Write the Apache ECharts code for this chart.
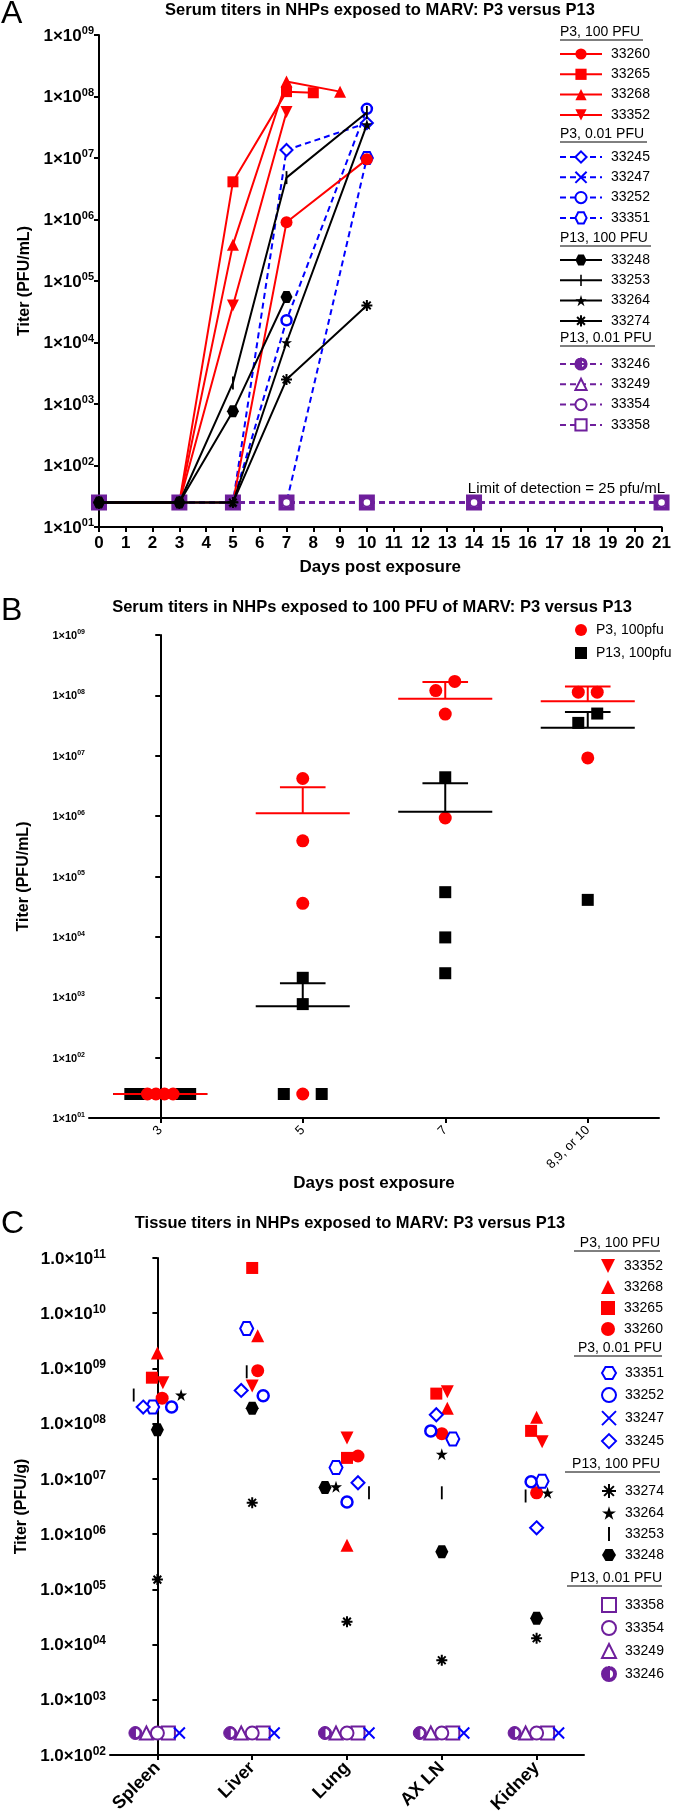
<!DOCTYPE html>
<html>
<head>
<meta charset="utf-8">
<script src="https://cdn.jsdelivr.net/npm/echarts@6.0.0/dist/echarts.min.js"></script>
<style>
  html, body { margin: 0; padding: 0; background: #fff; }
  #main { width: 674px; height: 1816px; }
</style>
</head>
<body>
<div id="main"></div>
<script>
var FONT = '"Liberation Sans", Arial, Helvetica, sans-serif';
var RED = '#ff0000', BLUE = '#0000ff', BLACK = '#000000', PURPLE = '#6e1f9c';

// ---- A: serum titers per animal over time (PFU/mL), null = not sampled
var daysA = [0, 3, 5, 7, 8, 9, 10, 14, 21];
var a33260 = [25, 25, 25, 9.0e5, null, null, 9.5e6, null, null];
var a33265 = [25, 25, 4.1e6, 1.2e8, 1.15e8, null, null, null, null];
var a33268 = [25, 25, 3.9e5, 1.75e8, null, 1.2e8, null, null, null];
var a33352 = [25, 25, 4.0e4, 5.6e7, null, null, null, null, null];
var a33245 = [25, 25, 25, 1.35e7, null, null, 3.7e7, null, null];
var a33247 = [25, 25, 25, 25, null, null, 25, 25, 25];
var a33252 = [25, 25, 25, 2.3e4, null, null, 6.3e7, null, null];
var a33351 = [25, 25, 25, 25, null, null, 1.0e7, null, null];
var a33248 = [25, 25, 760, 5.5e4, null, null, null, null, null];
var a33253 = [25, 25, 2.2e3, 4.8e6, null, null, 5.5e7, null, null];
var a33264 = [25, 25, 25, 1.0e4, null, null, 3.5e7, null, null];
var a33274 = [25, 25, 25, 2.5e3, null, null, 4.0e4, null, null];
var a33246 = [25, 25, 25, 25, null, null, 25, 25, 25];
var a33249 = [25, 25, 25, 25, null, null, 25, 25, 25];
var a33354 = [25, 25, 25, 25, null, null, 25, 25, 25];
var a33358 = [25, 25, 25, 25, null, null, 25, 25, 25];

// ---- B: 100 PFU groups by day
var bDays = ['3', '5', '7', '8,9, or 10'];
var bP3 = [[25, 25, 25, 25], [4.2e6, 3.9e5, 3.6e4, 25], [1.7e8, 1.2e8, 4.9e7, 9.3e5], [1.13e8, 1.13e8, 9.2e6]];
var bP13 = [[25, 25, 25, 25], [2.1e3, 770, 25, 25], [4.4e6, 5.5e4, 9.8e3, 2.5e3], [5.0e7, 3.5e7, 4.1e4]];
var bP3Mean = [25, 1.12e6, 8.8e7, 8.0e7];
var bP3SemTop = [25, 3.0e6, 1.66e8, 1.4e8];
var bP13Mean = [25, 710, 1.18e6, 2.9e7];
var bP13SemTop = [25, 1.7e3, 3.5e6, 5.3e7];

// ---- C: tissue titers (PFU/g)
var cTissues = ['Spleen', 'Liver', 'Lung', 'AX LN', 'Kidney'];
var c33352 = [5.5e8, 4.8e8, 5.5e7, 3.8e8, 4.7e7];
var c33268 = [1.9e9, 3.9e9, 6.3e5, 1.9e8, 1.3e8];
var c33265 = [6.8e8, 6.6e10, 2.4e7, 3.5e8, 7.4e7];
var c33260 = [2.9e8, 9.1e8, 2.6e7, 6.6e7, 5.6e6];
var c33351 = [2.0e8, 5.3e9, 1.6e7, 5.3e7, 9.1e6];
var c33252 = [2.0e8, 3.2e8, 3.8e6, 7.4e7, 8.9e6];
var c33247 = [250, 250, 250, 250, 250];
var c33245 = [2.0e8, 4.0e8, 8.5e6, 1.45e8, 1.3e6];
var c33274 = [1.5e5, 3.7e6, 2.6e4, 5.2e3, 1.3e4];
var c33264 = [3.3e8, null, 7.2e6, 2.8e7, 5.6e6];
var c33253 = [3.3e8, 8.7e8, 5.6e6, 5.6e6, 4.9e6];
var c33248 = [7.8e7, 1.9e8, 7.0e6, 4.8e5, 3.0e4];
var c33358 = [250, 250, 250, 250, 250];
var c33354 = [250, 250, 250, 250, 250];
var c33249 = [250, 250, 250, 250, 250];
var c33246 = [250, 250, 250, 250, 250];

// symbols (the lone moves keep the bounding box square)
var HEX = 'path://M-1,0 L-0.5,-0.866 L0.5,-0.866 L1,0 L0.5,0.866 L-0.5,0.866 Z';
var STAR = 'path://M0,-1 L0.2245,-0.309 L0.951,-0.309 L0.363,0.118 L0.588,0.809 L0,0.382 L-0.588,0.809 L-0.363,0.118 L-0.951,-0.309 L-0.2245,-0.309 Z';
var CROSS = 'path://M-1,-1 L1,1 M-1,1 L1,-1';
var ASTER = 'path://M-1,0 L1,0 M0,-1 L0,1 M-0.7,-0.7 L0.7,0.7 M-0.7,0.7 L0.7,-0.7';
var BAR = 'path://M-1,-1 M1,1 M-0.14,-1 L0.14,-1 L0.14,1 L-0.14,1 Z';
var HALF = 'path://M0,-1 A1,1 0 0,0 0,1 Z M0,-1 A1,1 0 0,1 0,1 L0,0.72 A0.72,0.72 0 0,0 0,-0.72 Z';
var DOWN = 'path://M-1,-1 L1,-1 L0,1 Z';

function itemStyleFor(color, kind, bw) {
  if (kind === 'open') return { color: '#fff', borderColor: color, borderWidth: bw || 2, opacity: 1 };
  if (kind === 'stroke') return { color: color, borderColor: color, borderWidth: 2, opacity: 1 };
  if (kind === 'half') return { color: color, borderColor: color, borderWidth: 1, opacity: 1 };
  if (kind === 'solidbox') return { color: color, borderColor: color, borderWidth: bw || 2, opacity: 1 };
  return { color: color, borderWidth: 0, opacity: 1 };
}

function lineA(name, vals, sym, size, color, kind, dashed, z, bw) {
  var pts = [];
  daysA.forEach(function (d, i) { if (vals[i] != null) pts.push([d, vals[i]]); });
  return {
    type: 'line', name: name, xAxisIndex: 0, yAxisIndex: 0, data: pts,
    symbol: sym, symbolSize: size,
    z: z, silent: true,
    lineStyle: { color: color, width: 2, type: dashed ? [6, 4] : 'solid' },
    itemStyle: itemStyleFor(color, kind, bw)
  };
}

var seriesA = [
  lineA('33260', a33260, 'circle', 12, RED, 'fill', false, 3),
  lineA('33265', a33265, 'rect', 11, RED, 'fill', false, 3),
  lineA('33268', a33268, 'triangle', 12, RED, 'fill', false, 3),
  lineA('33352', a33352, DOWN, 12, RED, 'fill', false, 3),
  lineA('33245', a33245, 'diamond', 12, BLUE, 'open', true, 2),
  lineA('33247', a33247, CROSS, 10, BLUE, 'stroke', true, 2),
  lineA('33252', a33252, 'circle', 10, BLUE, 'open', true, 2, 2.5),
  lineA('33351', a33351, HEX, 12, BLUE, 'open', true, 2),
  lineA('33248', a33248, HEX, 12, BLACK, 'fill', false, 5),
  lineA('33253', a33253, BAR, 13, BLACK, 'fill', false, 5),
  lineA('33264', a33264, STAR, 11, BLACK, 'fill', false, 5),
  lineA('33274', a33274, ASTER, 11, BLACK, 'stroke', false, 5),
  // square first so the other purple marks sit on it
  lineA('33358', a33358, 'rect', 14, PURPLE, 'solidbox', true, 4, 2),
  lineA('33246', a33246, HALF, 10, PURPLE, 'half', true, 4),
  lineA('33249', a33249, 'triangle', 9, PURPLE, 'open', true, 4, 1.5),
  lineA('33354', a33354, 'circle', 8, PURPLE, 'open', true, 4, 1.5)
];

// spread overlapping points of one column sideways
// (centre-out; exact ties in C go left to right)
function spread(points, thr, step, maxW, tieLR) {
  var byCat = {};
  points.forEach(function (p) { (byCat[p.k] = byCat[p.k] || []).push(p); });
  Object.keys(byCat).forEach(function (k) {
    var col = byCat[k].slice().sort(function (a, b) { return a.lv - b.lv; });
    var start = 0;
    for (var j = 1; j <= col.length; j++) {
      if (j === col.length || col[j].lv - col[j - 1].lv >= thr) {
        var grp = col.slice(start, j).sort(function (a, b) { return a.s - b.s || a.i - b.i; });
        var n = grp.length, st = n > 1 ? Math.min(step, maxW / (n - 1)) : 0;
        var slots = [];
        for (var q = 0; q < n; q++) slots.push((q - (n - 1) / 2) * st);
        var ties = grp.every(function (p) { return p.lv === grp[0].lv; });
        if (tieLR && ties && n > 1) {
          grp.reverse();
        } else {
          slots.sort(function (a, b) { return Math.abs(a) - Math.abs(b) || b - a; });
        }
        grp.forEach(function (p, q) { p.dx = slots[q]; });
        start = j;
      }
    }
  });
}

// ---- B points
var bPts = [];
[bP3, bP13].forEach(function (grp, s) {
  grp.forEach(function (vals, k) {
    vals.forEach(function (v, i) { bPts.push({ s: s, k: k, i: i, v: v, lv: Math.log10(v) }); });
  });
});
spread(bPts, 0.2, 0.133, 0.42, false);
function bData(s) {
  return bPts.filter(function (p) { return p.s === s; }).map(function (p) { return [p.k + p.dx, p.v]; });
}

function semItem(color) {
  return function (params, api) {
    var k = api.value(0);
    var m = api.coord([k, api.value(1)]);
    var t = api.coord([k, api.value(2)]);
    var band = api.size([1, 0])[0];
    var hw = band * 0.33, cw = band * 0.16;
    var st = { stroke: color, lineWidth: 2 };
    return {
      type: 'group', children: [
        { type: 'line', shape: { x1: m[0] - hw, y1: m[1], x2: m[0] + hw, y2: m[1] }, style: st },
        { type: 'line', shape: { x1: m[0], y1: m[1], x2: t[0], y2: t[1] }, style: st },
        { type: 'line', shape: { x1: t[0] - cw, y1: t[1], x2: t[0] + cw, y2: t[1] }, style: st }
      ]
    };
  };
}

var seriesB = [
  { type: 'scatter', name: 'P3, 100pfu', xAxisIndex: 2, yAxisIndex: 1, data: bData(0), symbol: 'circle', symbolSize: 13, itemStyle: { color: RED, opacity: 1 }, z: 4, silent: true },
  { type: 'scatter', name: 'P13, 100pfu', xAxisIndex: 2, yAxisIndex: 1, data: bData(1), symbol: 'rect', symbolSize: 12, itemStyle: { color: BLACK, opacity: 1 }, z: 3, silent: true },
  { type: 'custom', name: 'P13 mean', xAxisIndex: 2, yAxisIndex: 1, renderItem: semItem(BLACK), z: 5, silent: true,
    data: bP13Mean.map(function (m, k) { return [k, m, bP13SemTop[k]]; }) },
  { type: 'custom', name: 'P3 mean', xAxisIndex: 2, yAxisIndex: 1, renderItem: semItem(RED), z: 6, silent: true,
    data: bP3Mean.map(function (m, k) { return [k, m, bP3SemTop[k]]; }) }
];

// ---- C points
var cDefs = [
  { id: '33352', vals: c33352, sym: DOWN, size: 13, color: RED, kind: 'fill' },
  { id: '33268', vals: c33268, sym: 'triangle', size: 13, color: RED, kind: 'fill' },
  { id: '33265', vals: c33265, sym: 'rect', size: 12, color: RED, kind: 'fill' },
  { id: '33260', vals: c33260, sym: 'circle', size: 13, color: RED, kind: 'fill' },
  { id: '33351', vals: c33351, sym: HEX, size: 13, color: BLUE, kind: 'open' },
  { id: '33252', vals: c33252, sym: 'circle', size: 11, color: BLUE, kind: 'open', bw: 2.5 },
  { id: '33247', vals: c33247, sym: CROSS, size: 11, color: BLUE, kind: 'stroke' },
  { id: '33245', vals: c33245, sym: 'diamond', size: 13, color: BLUE, kind: 'open' },
  { id: '33274', vals: c33274, sym: ASTER, size: 11, color: BLACK, kind: 'stroke' },
  { id: '33264', vals: c33264, sym: STAR, size: 12, color: BLACK, kind: 'fill' },
  { id: '33253', vals: c33253, sym: BAR, size: 13, color: BLACK, kind: 'fill' },
  { id: '33248', vals: c33248, sym: HEX, size: 13, color: BLACK, kind: 'fill' },
  { id: '33358', vals: c33358, sym: 'rect', size: 13, color: PURPLE, kind: 'open' },
  { id: '33354', vals: c33354, sym: 'circle', size: 13, color: PURPLE, kind: 'open' },
  { id: '33249', vals: c33249, sym: 'triangle', size: 13, color: PURPLE, kind: 'open' },
  { id: '33246', vals: c33246, sym: HALF, size: 13, color: PURPLE, kind: 'half' }
];
var cPts = [];
cDefs.forEach(function (d, s) {
  d.vals.forEach(function (v, k) { if (v != null) cPts.push({ s: s, k: k, i: 0, v: v, lv: Math.log10(v) }); });
});
spread(cPts, 0.2, 0.116, 0.5, true);
var seriesC = cDefs.map(function (d, s) {
  return {
    type: 'scatter', name: 'C' + d.id, xAxisIndex: 4, yAxisIndex: 2, silent: true,
    data: cPts.filter(function (p) { return p.s === s; }).map(function (p) { return [p.k + p.dx, p.v]; }),
    symbol: d.sym, symbolSize: d.size,
    itemStyle: itemStyleFor(d.color, d.kind, d.bw), z: d.color === PURPLE ? 3 : 4
  };
});

// axis label helpers
function expLabel(prefix) {
  return function (v) {
    var e = Math.round(Math.log10(v));
    return '{m|' + prefix + '}{s|' + (e < 10 ? '0' : '') + e + '}';
  };
}
function richFor(big, small, weight) {
  return {
    m: { fontSize: big, fontWeight: weight, fontFamily: FONT, color: '#000', lineHeight: big + 2, verticalAlign: 'bottom' },
    s: { fontSize: small, fontWeight: weight, fontFamily: FONT, color: '#000', lineHeight: big + 2, verticalAlign: 'top' }
  };
}
var AX = { show: true, lineStyle: { color: '#000', width: 2 } };
var TICK = { show: true, length: 5, lineStyle: { color: '#000', width: 2 } };

function legendBlock(names, left, top, iw, ih, gap, fmt) {
  return {
    orient: 'vertical', left: left, top: top, itemWidth: iw, itemHeight: ih, itemGap: gap,
    selectedMode: false, data: names, formatter: fmt || '{name}',
    textStyle: { fontSize: 14, fontFamily: FONT, color: '#000', lineHeight: ih, padding: [0, 0, 0, 4] }
  };
}
function stripC(n) { return n.slice(1); }

function txt(x, y, s, font, align) {
  return { type: 'text', x: x, y: y, silent: true,
    style: { text: s, font: font, fill: '#000', align: align || 'left', verticalAlign: 'middle' } };
}
function uline(x1, x2, y) {
  return { type: 'line', silent: true, shape: { x1: x1, y1: y, x2: x2, y2: y }, style: { stroke: '#000', lineWidth: 1 } };
}

var option = {
  animation: false,
  backgroundColor: '#fff',
  grid: [
    { left: 99, top: 35, width: 563, height: 492 },
    { left: 89, top: 635, width: 570, height: 483 },
    { left: 110, top: 1258, width: 474, height: 497 }
  ],
  xAxis: [
    { gridIndex: 0, type: 'value', min: 0, max: 21, interval: 1, splitLine: { show: false },
      axisLine: AX, axisTick: TICK,
      axisLabel: { color: '#000', fontSize: 17, fontWeight: 'bold', fontFamily: FONT, margin: 8 },
      name: 'Days post exposure', nameLocation: 'middle', nameGap: 32,
      nameTextStyle: { color: '#000', fontSize: 17, fontWeight: 'bold', fontFamily: FONT } },
    { gridIndex: 1, type: 'category', data: bDays, boundaryGap: true,
      axisLine: AX, axisTick: { show: true, alignWithLabel: true, length: 5, lineStyle: { color: '#000', width: 2 } },
      axisLabel: { color: '#000', fontSize: 13, fontFamily: FONT, rotate: 45, margin: 10 },
      name: 'Days post exposure', nameLocation: 'middle', nameGap: 46,
      nameTextStyle: { color: '#000', fontSize: 17, fontWeight: 'bold', fontFamily: FONT } },
    { gridIndex: 1, type: 'value', min: -0.5, max: 3.5, show: false, splitLine: { show: false } },
    { gridIndex: 2, type: 'category', data: cTissues, boundaryGap: true,
      axisLine: AX, axisTick: { show: true, alignWithLabel: true, length: 5, lineStyle: { color: '#000', width: 2 } },
      axisLabel: { color: '#000', fontSize: 18, fontWeight: 'bold', fontFamily: FONT, rotate: 45, margin: 10 } },
    { gridIndex: 2, type: 'value', min: -0.5, max: 4.5, show: false, splitLine: { show: false } }
  ],
  yAxis: [
    { gridIndex: 0, type: 'log', logBase: 10, min: 10, max: 1e9, splitNumber: 8, splitLine: { show: false },
      axisLine: AX, axisTick: TICK,
      axisLabel: { formatter: expLabel('1\u00d710'), rich: richFor(17, 11, 'bold'), margin: 5 },
      name: 'Titer (PFU/mL)', nameLocation: 'middle', nameGap: 66,
      nameTextStyle: { color: '#000', fontSize: 16, fontWeight: 'bold', fontFamily: FONT } },
    { gridIndex: 1, type: 'log', logBase: 10, min: 10, max: 1e9, splitNumber: 8, splitLine: { show: false },
      axisLine: AX, axisTick: TICK,
      axisLabel: { formatter: expLabel('1\u00d710'), rich: richFor(11, 7, 'bold'), margin: 4 },
      name: 'Titer (PFU/mL)', nameLocation: 'middle', nameGap: 57,
      nameTextStyle: { color: '#000', fontSize: 16, fontWeight: 'bold', fontFamily: FONT } },
    { gridIndex: 2, type: 'log', logBase: 10, min: 100, max: 1e11, splitNumber: 9, splitLine: { show: false },
      axisLine: AX, axisTick: TICK,
      axisLabel: { formatter: expLabel('1.0\u00d710'), rich: richFor(17, 12, 'bold'), margin: 4 },
      name: 'Titer (PFU/g)', nameLocation: 'middle', nameGap: 80,
      nameTextStyle: { color: '#000', fontSize: 16, fontWeight: 'bold', fontFamily: FONT } }
  ],
  legend: [
    legendBlock(['33260', '33265', '33268', '33352'], 554, 42, 42, 14, 6.3),
    legendBlock(['33245', '33247', '33252', '33351'], 554, 145, 42, 14, 6.3),
    legendBlock(['33248', '33253', '33264', '33274'], 554, 248, 42, 14, 6.3),
    legendBlock(['33246', '33249', '33354',
      { name: '33358', itemStyle: { color: '#fff', borderColor: PURPLE, borderWidth: 2 } }], 554, 352, 42, 14, 6.3),
    legendBlock(['P3, 100pfu', 'P13, 100pfu'], 570, 618, 12, 12, 9),
    legendBlock(['C33352', 'C33268', 'C33265', 'C33260'], 596, 1254, 14, 14, 7, stripC),
    legendBlock(['C33351', 'C33252', 'C33247', 'C33245'], 596, 1361, 14, 14, 7, stripC),
    legendBlock(['C33274', 'C33264', 'C33253', 'C33248'], 596, 1478, 14, 14, 7, stripC),
    legendBlock(['C33358', 'C33354', 'C33249', 'C33246'], 596, 1592, 14, 14, 7, stripC)
  ],
  graphic: [
    txt(1, 14, 'A', '32px ' + FONT),
    txt(380, 10, 'Serum titers in NHPs exposed to MARV: P3 versus P13', 'bold 16.5px ' + FONT, 'center'),
    txt(665, 489, 'Limit of detection = 25 pfu/mL', '15px ' + FONT, 'right'),
    txt(560, 32, 'P3, 100 PFU', '14px ' + FONT), uline(560, 643, 40),
    txt(560, 134, 'P3, 0.01 PFU', '14px ' + FONT), uline(560, 647, 142),
    txt(560, 238, 'P13, 100 PFU', '14px ' + FONT), uline(560, 651, 246),
    txt(560, 338, 'P13, 0.01 PFU', '14px ' + FONT), uline(560, 655, 346),
    txt(1, 611, 'B', '32px ' + FONT),
    txt(372, 607, 'Serum titers in NHPs exposed to 100 PFU of MARV: P3 versus P13', 'bold 16.5px ' + FONT, 'center'),
    txt(1, 1224, 'C', '32px ' + FONT),
    txt(350, 1223, 'Tissue titers in NHPs exposed to MARV: P3 versus P13', 'bold 16.5px ' + FONT, 'center'),
    txt(660, 1243, 'P3, 100 PFU', '14px ' + FONT, 'right'), uline(574, 660, 1251),
    txt(662, 1348, 'P3, 0.01 PFU', '14px ' + FONT, 'right'), uline(574, 662, 1356),
    txt(660, 1464, 'P13, 100 PFU', '14px ' + FONT, 'right'), uline(565, 660, 1472),
    txt(662, 1578, 'P13, 0.01 PFU', '14px ' + FONT, 'right'), uline(567, 662, 1586)
  ],
  series: seriesA.concat(seriesB, seriesC)
};

var chart = echarts.init(document.getElementById('main'), null, { width: 674, height: 1816 });
chart.setOption(option);
</script>
</body>
</html>
